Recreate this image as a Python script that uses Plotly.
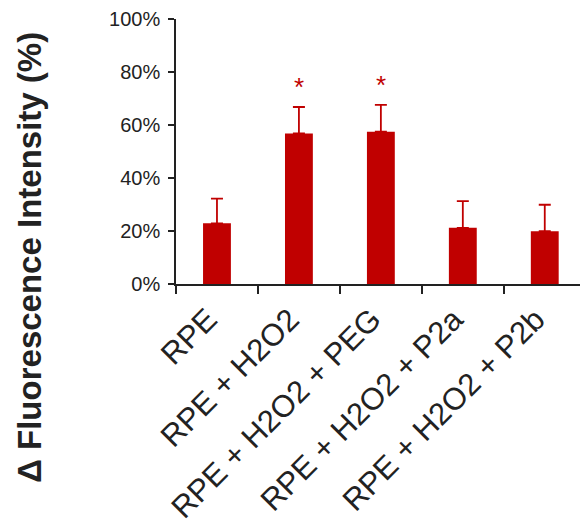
import plotly.graph_objects as go

# Groups and measured fluorescence change (%), with SD shown as upper error bars
groups = ["RPE", "RPE + H2O2", "RPE + H2O2 + PEG", "RPE + H2O2 + P2a", "RPE + H2O2 + P2b"]
means = [22.9, 56.8, 57.5, 21.2, 19.9]
errors = [9.3, 10.0, 10.1, 10.1, 10.0]
significant = [False, True, True, False, False]
y_ticks = [0, 20, 40, 60, 80, 100]
y_tick_text = [f"{v}%" for v in y_ticks]

RED = "#C00000"
INK = "#222222"
FONT = "Liberation Sans, Arial, sans-serif"

fig = go.Figure()
fig.add_trace(go.Bar(
    x=groups,
    y=means,
    width=0.34,
    marker=dict(color=RED, line=dict(width=0)),
    error_y=dict(
        type="data",
        symmetric=False,
        array=errors,
        arrayminus=[0] * len(errors),
        color=RED,
        thickness=1.8,
        width=6,
    ),
    hoverinfo="skip",
))

# significance markers above the error bars
for g, m, e, s in zip(groups, means, errors, significant):
    if s:
        fig.add_annotation(
            x=g, y=m + e, yshift=3,
            text="*", showarrow=False,
            yanchor="bottom",
            font=dict(family=FONT, size=26, color=RED),
        )

# vertical y-axis title
fig.add_annotation(
    xref="paper", yref="paper",
    x=-0.363, y=0.10,
    text="<b>Δ Fluorescence Intensity (%)</b>",
    textangle=-90, showarrow=False,
    xanchor="center", yanchor="middle",
    font=dict(family=FONT, size=33, color=INK),
)

fig.update_layout(
    width=580, height=528,
    margin=dict(l=176, r=0, t=19, b=244),
    paper_bgcolor="white",
    plot_bgcolor="white",
    showlegend=False,
    font=dict(family=FONT, color=INK),
)

fig.update_xaxes(
    range=[-0.5, 4.43],
    automargin=False,
    showline=True, linecolor=INK, linewidth=1.6,
    ticks="outside", tickson="boundaries", ticklen=8, tickwidth=1.6, tickcolor=INK,
    tickangle=-45,
    ticklabelshift=-9,
    ticklabelstandoff=3,
    tickfont=dict(size=31, color=INK),
    showgrid=False, zeroline=False,
)

fig.update_yaxes(
    range=[0, 100],
    automargin=False,
    tickvals=y_ticks,
    ticktext=y_tick_text,
    showline=True, linecolor=INK, linewidth=1.6,
    ticks="outside", ticklen=6, tickwidth=1.6, tickcolor=INK,
    ticklabelstandoff=4,
    tickfont=dict(size=20, color=INK),
    showgrid=False, zeroline=False,
)

fig.write_html("out.html", config={"displayModeBar": False})
